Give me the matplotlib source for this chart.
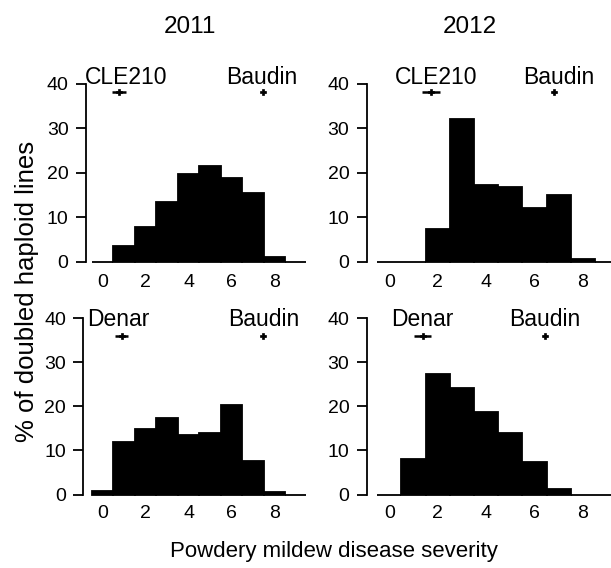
import matplotlib
matplotlib.use("Agg")
import matplotlib.pyplot as plt
import numpy as np

plt.rcParams['font.family'] = ['Liberation Sans', 'DejaVu Sans']

W, H = 611, 568

# severity score bins (centres)
bins = [0, 1, 2, 3, 4, 5, 6, 7, 8, 9]

# % of doubled haploid lines per bin
cle_2011 = [0, 3.5, 7.7, 13.4, 19.6, 21.4, 18.7, 15.3, 1.05, 0]
cle_2012 = [0, 0, 7.3, 32.0, 17.2, 16.8, 12.0, 14.9, 0.5, 0]
den_2011 = [0.9, 12.0, 14.9, 17.4, 13.6, 14.0, 20.4, 7.7, 0.5, 0]
den_2012 = [0, 8.1, 27.4, 24.2, 18.6, 14.0, 7.3, 1.3, 0, 0]

# parent means and errors (severity)
parent_names = ["CLE210", "Baudin", "Denar"]
cle_2011_par = [0.76, 7.49]; cle_2011_err = [0.33, 0.08]
cle_2012_par = [1.72, 6.80]; cle_2012_err = [0.38, 0.08]
den_2011_par = [0.88, 7.49]; den_2011_err = [0.31, 0.08]
den_2012_par = [1.38, 6.43]; den_2012_err = [0.36, 0.08]

years = ["2011", "2012"]
yticks = [0, 10, 20, 30, 40]
xticks = [0, 2, 4, 6, 8]

fig = plt.figure(figsize=(W / 100, H / 100), dpi=100)


def make_axes(x0px, scale, xleft, xright, y0px, yscale, ylo, yhi):
    lpx = x0px + xleft * scale
    rpx = x0px + xright * scale
    tpx = y0px - yhi * yscale
    bpx = y0px - ylo * yscale
    ax = fig.add_axes([lpx / W, 1 - bpx / H, (rpx - lpx) / W, (bpx - tpx) / H])
    ax.set_xlim(xleft, xright)
    ax.set_ylim(ylo, yhi)
    return ax


panels = [
    (102.7, 21.45, -0.78, 9.55, 261.5, 4.45, cle_2011, ["CLE210", "Baudin"], cle_2011_par, cle_2011_err, 38, 40, [1.1, 7.4], 4.5),
    (389.3, 24.2, -0.93, 9.5, 261.5, 4.45, cle_2012, ["CLE210", "Baudin"], cle_2012_par, cle_2012_err, 38, 40, [1.92, 7.0], 4.5),
    (102.7, 21.45, -0.9, 9.55, 494.5, 4.41, den_2011, ["Denar", "Baudin"], den_2011_par, den_2011_err, 36, 38.2, [0.75, 7.49], 3.0),
    (389.3, 24.2, -0.93, 9.5, 494.5, 4.41, den_2012, ["Denar", "Baudin"], den_2012_par, den_2012_err, 36, 38.2, [1.36, 6.41], 3.0),
]

for (x0px, sc, xl, xr, y0px, ysc, data, names, par, err, ymark, ytext, txtx, pad) in panels:
    ax = make_axes(x0px, sc, xl, xr, y0px, ysc, -1.5, 42)
    ax.bar(bins, data, width=1.0, color='black', edgecolor='black', linewidth=1.3)
    ax.errorbar(par, [ymark] * len(par), xerr=err, fmt='P', ms=4.5, mew=0.5, color='black',
                elinewidth=1.8, capsize=0, clip_on=False)
    for nm, tx in zip(names, txtx):
        ax.text(tx, ytext, nm, ha='center', va='baseline', fontsize=16.5, clip_on=False)
    for s in ['top', 'right', 'bottom']:
        ax.spines[s].set_visible(False)
    ax.spines['left'].set_bounds(0, 40)
    ax.spines['left'].set_linewidth(1.3)
    ax.set_yticks(yticks)
    ax.set_xticks(xticks)
    ax.tick_params(axis='y', length=7.5, width=1.3, labelsize=14, pad=5)
    ax.tick_params(axis='x', length=0, labelsize=14, pad=pad)
    ax.patch.set_visible(False)

fig.text(190 / W, 1 - 27 / H, years[0], ha='center', va='center', fontsize=17.5)
fig.text(470 / W, 1 - 27 / H, years[1], ha='center', va='center', fontsize=17.5)
fig.text(27 / W, 1 - 291 / H, "% of doubled haploid lines", ha='center', va='center',
         rotation=90, fontsize=18.5)
fig.text(334 / W, 1 - 551 / H, "Powdery mildew disease severity", ha='center', va='center',
         fontsize=16)

fig.savefig("out.png", dpi=100)
